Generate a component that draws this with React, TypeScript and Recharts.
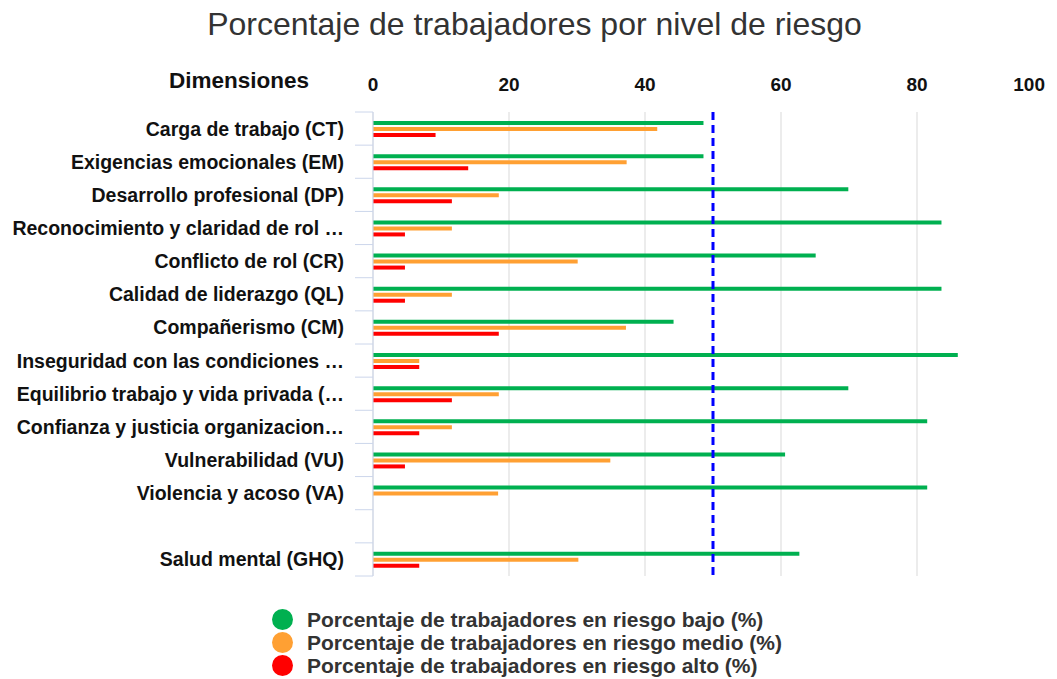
import {
  BarChart,
  Bar,
  XAxis,
  YAxis,
  CartesianGrid,
  ReferenceLine,
} from "recharts";

const categories = [
  "Carga de trabajo (CT)",
  "Exigencias emocionales (EM)",
  "Desarrollo profesional (DP)",
  "Reconocimiento y claridad de rol …",
  "Conflicto de rol (CR)",
  "Calidad de liderazgo (QL)",
  "Compañerismo (CM)",
  "Inseguridad con las condiciones …",
  "Equilibrio trabajo y vida privada (…",
  "Confianza y justicia organizacion…",
  "Vulnerabilidad (VU)",
  "Violencia y acoso (VA)",
  "",
  "Salud mental (GHQ)",
];

const riesgoBajo = [48.6, 48.6, 69.9, 83.6, 65.1, 83.6, 44.2, 86.0, 69.9, 81.5, 60.6, 81.5, null, 62.7];
const riesgoMedio = [41.8, 37.3, 18.5, 11.6, 30.1, 11.6, 37.2, 6.8, 18.5, 11.6, 34.9, 18.4, null, 30.2];
const riesgoAlto = [9.2, 14.0, 11.6, 4.7, 4.7, 4.7, 18.5, 6.8, 11.6, 6.8, 4.7, 0, null, 6.8];

const xTicks = [0, 20, 40, 60, 80, 100];
const umbral = 50;

const series = [
  { key: "bajo", name: "Porcentaje de trabajadores en riesgo bajo (%)", color: "#00b050" },
  { key: "medio", name: "Porcentaje de trabajadores en riesgo medio (%)", color: "#ffa033" },
  { key: "alto", name: "Porcentaje de trabajadores en riesgo alto (%)", color: "#ff0000" },
];

const data = categories.map((name, i) => ({
  name,
  bajo: riesgoBajo[i],
  medio: riesgoMedio[i],
  alto: riesgoAlto[i],
}));

const FONT = '"Liberation Sans", Arial, Helvetica, sans-serif';
const W = 1049;
const H = 671;
const PLOT_LEFT = 365;
const PLOT_TOP = 104;
const PLOT_BOTTOM = 568;
const BAND = (PLOT_BOTTOM - PLOT_TOP) / categories.length;

const ValueTick = (props: any) => {
  const { x, y, payload, index } = props;
  // last label is kept inside the chart, like the original
  const last = index === xTicks.length - 1;
  return (
    <text
      x={x}
      y={y}
      textAnchor={last ? "end" : "middle"}
      fontFamily={FONT}
      fontWeight="bold"
      fontSize={19}
      fill="#111"
    >
      {payload.value}
    </text>
  );
};

const CategoryTick = (props: any) => {
  const { y, payload, index } = props;
  const last = index === categories.length - 1;
  return (
    <g>
      <line x1={PLOT_LEFT - 18} x2={PLOT_LEFT} y1={y - BAND / 2} y2={y - BAND / 2} stroke="#ccd6eb" />
      {last && (
        <line x1={PLOT_LEFT - 18} x2={PLOT_LEFT} y1={y + BAND / 2} y2={y + BAND / 2} stroke="#ccd6eb" />
      )}
      <text
        x={PLOT_LEFT - 29}
        y={y}
        dy="0.36em"
        textAnchor="end"
        fontFamily={FONT}
        fontWeight="bold"
        fontSize={19.5}
        fill="#111"
      >
        {payload.value}
      </text>
    </g>
  );
};

export default function App() {
  return (
    <div style={{ position: "relative", width: W, height: H, fontFamily: FONT }}>
      <div
        style={{
          position: "absolute",
          left: 0,
          top: 0,
          width: W,
          textAlign: "center",
          fontSize: 32,
          lineHeight: "32px",
          color: "#333",
          paddingLeft: 4,
          boxSizing: "border-box",
        }}
      >
        Porcentaje de trabajadores por nivel de riesgo
      </div>
      <div
        style={{
          position: "absolute",
          left: 131,
          top: 61,
          width: 200,
          textAlign: "center",
          fontSize: 22.5,
          lineHeight: "24px",
          fontWeight: "bold",
          color: "#111",
        }}
      >
        Dimensiones
      </div>
      <BarChart
        width={W}
        height={H}
        data={data}
        layout="vertical"
        barSize={4}
        barGap={2}
        margin={{ top: PLOT_TOP - 30, right: 4, left: 0, bottom: H - PLOT_BOTTOM }}
      >
        <CartesianGrid horizontal={false} stroke="#e6e6e6" strokeWidth={1.5} />
        <XAxis
          type="number"
          orientation="top"
          domain={[0, 100]}
          ticks={xTicks}
          height={30}
          axisLine={false}
          tickLine={false}
          tickSize={6}
          tickMargin={15}
          tick={<ValueTick />}
        />
        <YAxis
          type="category"
          dataKey="name"
          width={PLOT_LEFT}
          axisLine={{ stroke: "#ccd6eb" }}
          tickLine={false}
          interval={0}
          tick={<CategoryTick />}
        />
        {series.map((s) => (
          <Bar key={s.key} dataKey={s.key} name={s.name} fill={s.color} isAnimationActive={false} />
        ))}
        <ReferenceLine x={umbral} stroke="#0000ff" strokeWidth={3} strokeDasharray="8 5" />
      </BarChart>
      <div style={{ position: "absolute", left: 264, top: 600 }}>
        {series.map((s) => (
          <div
            key={s.key}
            style={{ display: "flex", alignItems: "center", height: 23, fontSize: 21, fontWeight: "bold", color: "#333" }}
          >
            <span
              style={{
                display: "inline-block",
                width: 21,
                height: 21,
                borderRadius: "50%",
                background: s.color,
                marginRight: 14,
              }}
            />
            {s.name}
          </div>
        ))}
      </div>
    </div>
  );
}
